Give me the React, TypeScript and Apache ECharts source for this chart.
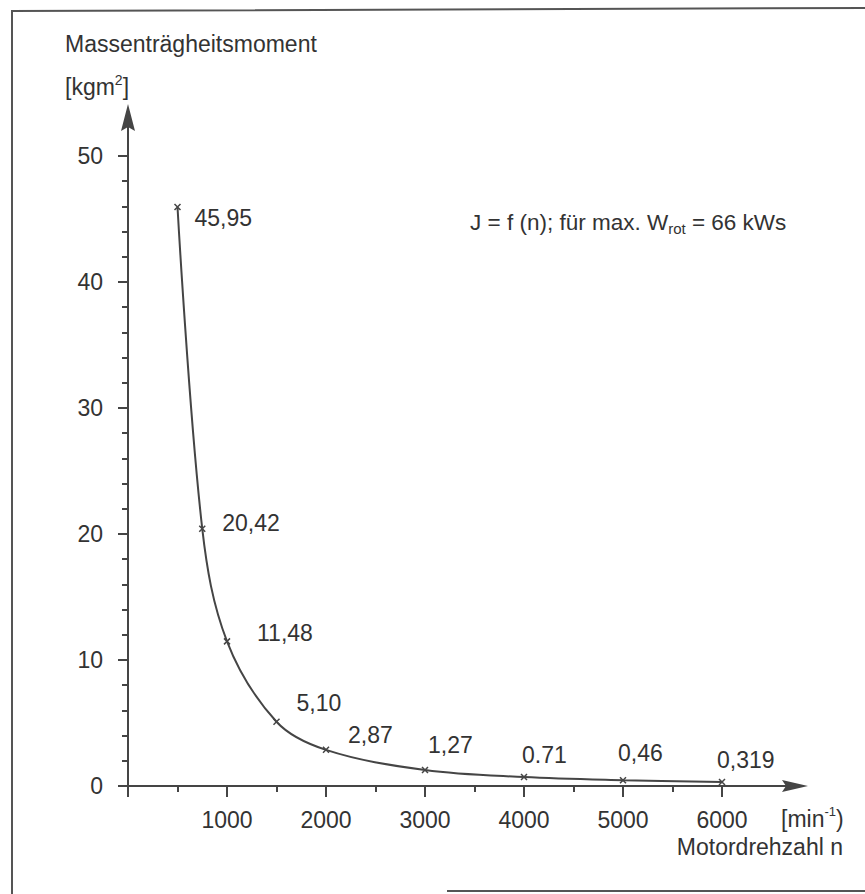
import React, { useEffect, useRef } from 'react';
import * as echarts from 'echarts';

// Motor speed n [min^-1]
const speeds = [500, 750, 1000, 1500, 2000, 3000, 4000, 5000, 6000];
// Moment of inertia J [kgm²]
const inertia = [45.95, 20.42, 11.48, 5.1, 2.87, 1.27, 0.71, 0.46, 0.319];
// Printed labels of the points
const pointLabels = ['45,95', '20,42', '11,48', '5,10', '2,87', '1,27', '0.71', '0,46', '0,319'];
// Label offsets (pixels, relative to the point)
const labelOffsets = [
  [17, 11], [20, -6], [30, -8], [20, -19], [22, -15], [3, -25], [-2, -22], [-5, -27], [-5, -22],
];

const FONT = 'Liberation Sans';
const FS = 23;
const TEXT = '#333333';
const LINE = '#454545';

export default function App() {
  const ref = useRef<HTMLDivElement>(null);

  useEffect(() => {
    document.body.style.margin = '0';
    const chart = echarts.init(ref.current!, undefined, { renderer: 'svg' });
    const option: any = {
      animation: false,
      backgroundColor: '#ffffff',
      grid: { left: 128, top: 156, right: 143, bottom: 108, containLabel: false },
      xAxis: {
        type: 'value',
        min: 0,
        max: 6000,
        interval: 1000,
        axisLine: { show: true, lineStyle: { color: LINE, width: 2 } },
        axisTick: { show: true, length: 11, lineStyle: { color: LINE, width: 2 } },
        minorTick: { show: true, splitNumber: 2, length: 6, lineStyle: { color: LINE, width: 2 } },
        axisLabel: {
          margin: 22,
          color: TEXT,
          fontFamily: FONT,
          fontSize: FS,
          formatter: (v: number) => (v === 0 ? '' : String(v)),
        },
        splitLine: { show: false },
        minorSplitLine: { show: false },
      },
      yAxis: {
        type: 'value',
        min: 0,
        max: 50,
        interval: 10,
        axisLine: { show: true, lineStyle: { color: LINE, width: 2 } },
        axisTick: { show: true, length: 10, lineStyle: { color: LINE, width: 2 } },
        minorTick: { show: true, splitNumber: 5, length: 6, lineStyle: { color: LINE, width: 2 } },
        axisLabel: { margin: 25, color: TEXT, fontFamily: FONT, fontSize: FS },
        splitLine: { show: false },
        minorSplitLine: { show: false },
      },
      series: [
        {
          type: 'line',
          data: speeds.map((x, i) => ({
            value: [x, inertia[i]],
            label: { offset: labelOffsets[i] },
          })),
          smooth: 0.35,
          symbol: 'path://M0,0L10,10M10,0L0,10',
          symbolSize: 6,
          showSymbol: true,
          itemStyle: { color: LINE, borderColor: LINE, borderWidth: 1.5 },
          lineStyle: { color: LINE, width: 2 },
          label: {
            show: true,
            position: 'inside',
            align: 'left',
            verticalAlign: 'middle',
            color: TEXT,
            fontFamily: FONT,
            fontSize: FS,
            formatter: (p: any) => pointLabels[p.dataIndex],
          },
        },
      ],
    };
    chart.setOption(option);

    const o = chart.convertToPixel({ gridIndex: 0 }, [0, 0]) as number[];
    const yTop = chart.convertToPixel({ gridIndex: 0 }, [0, 50]) as number[];
    const xEnd = chart.convertToPixel({ gridIndex: 0 }, [6000, 0]) as number[];

    const textStyle = { fill: TEXT, fontFamily: FONT, fontSize: FS, verticalAlign: 'middle' };
    const richMain = { fontFamily: FONT, fontSize: FS, fill: TEXT, lineHeight: 28, verticalAlign: 'middle' };
    chart.setOption({
      graphic: [
        // frame of the scanned page
        {
          type: 'polyline',
          shape: { points: [[12, 894], [12, 11], [865, 8]] },
          style: { stroke: '#555', lineWidth: 2, fill: 'none' },
          silent: true,
        },
        {
          type: 'line',
          shape: { x1: 447, y1: 891, x2: 865, y2: 891 },
          style: { stroke: '#555', lineWidth: 2 },
          silent: true,
        },
        // y-axis arrow
        {
          type: 'line',
          shape: { x1: yTop[0], y1: yTop[1], x2: yTop[0], y2: yTop[1] - 30 },
          style: { stroke: LINE, lineWidth: 2 },
        },
        {
          type: 'polygon',
          shape: {
            points: [
              [yTop[0], yTop[1] - 52],
              [yTop[0] - 7, yTop[1] - 25],
              [yTop[0], yTop[1] - 29],
              [yTop[0] + 7, yTop[1] - 25],
            ],
          },
          style: { fill: LINE },
        },
        // x-axis arrow
        {
          type: 'line',
          shape: { x1: xEnd[0], y1: o[1], x2: xEnd[0] + 64, y2: o[1] },
          style: { stroke: LINE, lineWidth: 2 },
        },
        {
          type: 'polygon',
          shape: {
            points: [
              [xEnd[0] + 86, o[1]],
              [xEnd[0] + 60, o[1] - 6],
              [xEnd[0] + 64, o[1]],
              [xEnd[0] + 60, o[1] + 6],
            ],
          },
          style: { fill: LINE },
        },
        // texts
        {
          type: 'text',
          x: 65,
          y: 44,
          style: { ...textStyle, text: 'Massenträgheitsmoment' },
        },
        {
          type: 'text',
          x: 65,
          y: 87,
          style: {
            ...textStyle,
            text: '{m|[kgm}{s|2}{m|]}',
            rich: {
              m: richMain,
              s: { fontFamily: FONT, fontSize: 14, fill: TEXT, lineHeight: 16, verticalAlign: 'top' },
            },
          },
        },
        {
          type: 'text',
          x: 470,
          y: 222,
          style: {
            ...textStyle,
            text: '{m|J = f (n); für max. W}{s|rot}{m| = 66 kWs}',
            rich: {
              m: { ...richMain, fontSize: 22.5 },
              s: { fontFamily: FONT, fontSize: 15, fill: TEXT, lineHeight: 17, verticalAlign: 'bottom' },
            },
          },
        },
        {
          type: 'text',
          x: 781,
          y: 819,
          style: {
            ...textStyle,
            text: '{m|[min}{s|-1}{m|)}',
            rich: {
              m: richMain,
              s: { fontFamily: FONT, fontSize: 13, fill: TEXT, lineHeight: 15, verticalAlign: 'top' },
            },
          },
        },
        {
          type: 'text',
          x: 843,
          y: 847,
          style: { ...textStyle, align: 'right', text: 'Motordrehzahl n' },
        },
      ],
    });

    return () => chart.dispose();
  }, []);

  return (
    <div
      ref={ref}
      style={{ position: 'absolute', left: 0, top: 0, width: 865, height: 894, background: '#fff' }}
    />
  );
}
